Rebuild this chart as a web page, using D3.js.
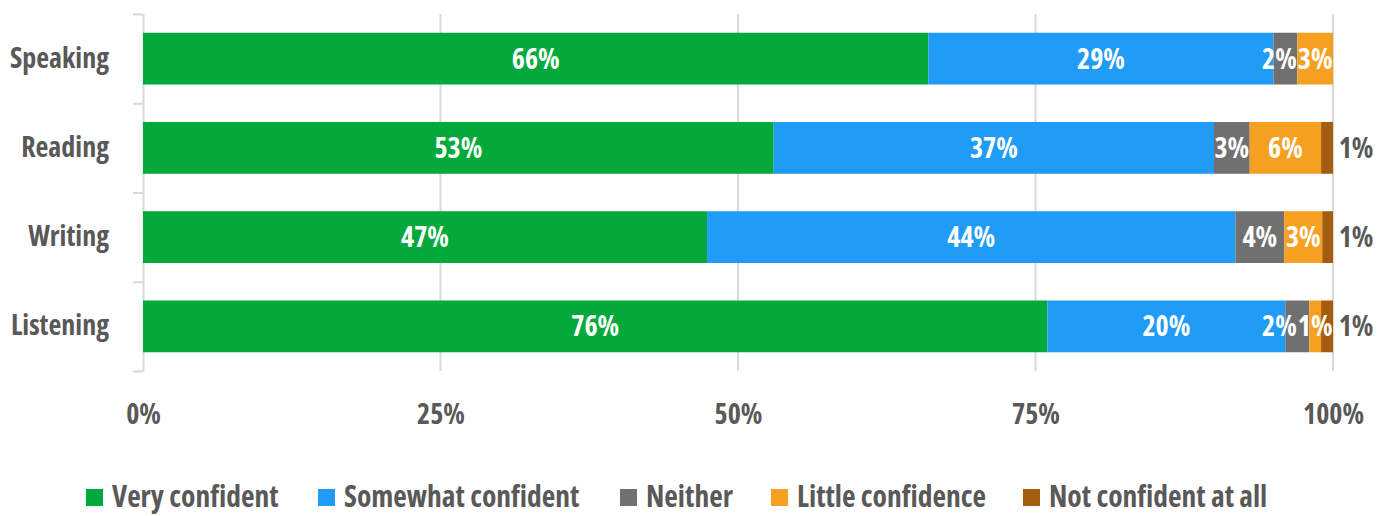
<!DOCTYPE html>
<html>
<head>
<meta charset="utf-8">
<script src="https://cdn.jsdelivr.net/npm/d3@7"></script>
<style>
  body { margin: 0; background: #fff; }
  svg text { font-family: "Open Sans", "Liberation Sans Narrow", sans-serif; font-stretch: 79%; font-weight: 700; }
</style>
</head>
<body>
<svg id="chart"></svg>
<script>
const WIDTH = 1388;
const HEIGHT = 516;

// skills, top to bottom
const skills = ['Speaking', 'Reading', 'Writing', 'Listening'];
const levels = ['Very confident', 'Somewhat confident', 'Neither', 'Little confidence', 'Not confident at all'];
const colors = ['#03a93b', '#209bf6', '#707070', '#f5a020', '#a45c10'];

// percentage per level, one array per level (same order as skills)
const veryConfident     = [66, 53, 47.4, 76];
const somewhatConfident = [29, 37, 44.4, 20];
const neither           = [2, 3, 4.1, 2];
const littleConfidence  = [3, 6, 3.2, 1];
const notConfident      = [0, 1, 0.9, 1];

const xTicks = [0, 0.25, 0.5, 0.75, 1];

const series = [veryConfident, somewhatConfident, neither, littleConfidence, notConfident];

// build rows for the stack
let rows = skills.map((s, i) => {
    let row = { skill: s };
    levels.forEach((l, j) => row[l] = series[j][i]);
    return row;
});

let stacked = d3.stack()
    .keys(levels)
    .offset(d3.stackOffsetExpand)(rows);

let svg = d3.select('#chart')
    .attr('width', WIDTH)
    .attr('height', HEIGHT);

const plotLeft = 143, plotRight = 1333, plotTop = 14, plotBottom = 371;
const textGray = '#595959';

let x = d3.scaleLinear().domain([0, 1]).range([plotLeft, plotRight]);
let y = d3.scaleBand().domain(skills).range([plotTop, plotBottom]).paddingInner(0.42).paddingOuter(0.21);
let yEdge = d3.scaleLinear().domain([0, skills.length]).range([plotTop, plotBottom]);

// gridlines
svg.append('g')
    .selectAll('line')
    .data(xTicks.slice(1))
    .enter().append('line')
    .attr('x1', d => x(d)).attr('x2', d => x(d))
    .attr('y1', plotTop).attr('y2', plotBottom)
    .attr('stroke', '#d9d9d9')
    .attr('stroke-width', 2);

// left axis with ticks between categories
let yAxis = svg.append('g')
    .attr('transform', `translate(${plotLeft},0)`)
    .call(d3.axisLeft(yEdge).tickValues(d3.range(skills.length + 1)).tickFormat('').tickSize(10).tickSizeOuter(0));
yAxis.selectAll('path, line').attr('stroke', '#d9d9d9').attr('stroke-width', 2);

// category labels
let yLabels = svg.append('g')
    .attr('transform', `translate(${plotLeft - 31},0)`)
    .call(d3.axisLeft(y).tickSize(0));
yLabels.select('.domain').remove();
yLabels.selectAll('text')
    .attr('fill', textGray)
    .style('font-size', '28px');

// bottom tick labels
let xAxis = svg.append('g')
    .attr('transform', `translate(0,${plotBottom})`)
    .call(d3.axisBottom(x).tickValues(xTicks).tickFormat(d3.format('.0%')).tickSize(0).tickPadding(33));
xAxis.select('.domain').remove();
xAxis.selectAll('text')
    .attr('fill', textGray)
    .style('font-size', '28px');

// bars
let groups = svg.append('g')
    .selectAll('g')
    .data(stacked)
    .enter().append('g')
    .attr('fill', (d, i) => colors[i]);

groups.selectAll('rect')
    .data(d => d)
    .enter().append('rect')
    .attr('x', d => x(d[0]))
    .attr('y', d => y(d.data.skill))
    .attr('width', d => x(d[1]) - x(d[0]))
    .attr('height', y.bandwidth());

// value labels
let labels = svg.append('g');
stacked.forEach((layer, li) => {
    let outside = li === levels.length - 1;
    labels.selectAll(null)
        .data(layer.filter(d => d.data[layer.key] > 0))
        .enter().append('text')
        .attr('class', 'val')
        .attr('data-skill', d => d.data.skill)
        .attr('data-outside', outside ? 1 : 0)
        .attr('x', d => outside ? x(d[1]) + 23 : (x(d[0]) + x(d[1])) / 2)
        .attr('y', d => y(d.data.skill) + y.bandwidth() / 2)
        .attr('dy', '0.36em')
        .attr('text-anchor', 'middle')
        .attr('fill', outside ? textGray : '#fff')
        .style('font-size', '28px')
        .text(d => Math.round(d.data[layer.key]) + '%');
});

// nudge crowded inside labels to the left, like the spreadsheet does
skills.forEach(s => {
    let inside = labels.selectAll('text.val')
        .filter(function() { return this.getAttribute('data-skill') === s && this.getAttribute('data-outside') === '0'; })
        .nodes();
    let limit = Infinity;
    for (let i = inside.length - 1; i >= 0; i--) {
        let node = inside[i];
        let w = node.getComputedTextLength();
        let cx = +node.getAttribute('x');
        if (cx + w / 2 > limit) {
            cx = limit - w / 2;
            node.setAttribute('x', cx);
        }
        limit = cx - w / 2 - 1;
    }
});

// legend
const legendX = [86, 318, 620, 771, 1023];
let legend = svg.append('g')
    .selectAll('g')
    .data(levels)
    .enter().append('g')
    .attr('transform', (d, i) => `translate(${legendX[i]},489)`);
legend.append('rect')
    .attr('width', 17).attr('height', 17)
    .attr('fill', (d, i) => colors[i]);
legend.append('text')
    .attr('x', 26).attr('y', 7.5).attr('dy', '0.36em')
    .attr('fill', textGray)
    .style('font-size', '29.5px')
    .text(d => d);
</script>
</body>
</html>
